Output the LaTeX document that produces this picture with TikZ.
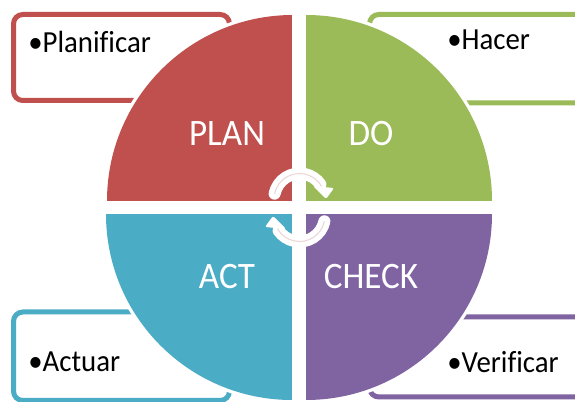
\documentclass[tikz,border=0pt]{standalone}
\usepackage{fontspec}
\setmainfont[Ligatures=NoCommon, FakeStretch=0.94]{Carlito}
\definecolor{colplan}{RGB}{192,80,77}
\definecolor{coldo}{RGB}{155,187,89}
\definecolor{colcheck}{RGB}{128,100,162}
\definecolor{colact}{RGB}{75,172,198}
\definecolor{colarrow}{RGB}{236,214,214}
\tikzset{
	notebox/.style={line width=3.75pt, rounded corners=7pt, fill=white},
	quadrant/.style={preaction={draw=white, line width=5pt}},
	phaselabel/.style={text=white, font=\fontsize{28}{28}\selectfont, inner sep=0pt},
	notelabel/.style={text=black, font=\fontsize{23}{23}\selectfont, anchor=base west, inner sep=0pt},
	cyclearc/.style={draw=white, line width=9pt, line cap=round},
	cycleline/.style={draw=colarrow, line width=0.8pt}
}

\begin{document}
\begin{tikzpicture}[x=0.75pt, y=-0.75pt]
	\clip (0,0) rectangle (575,402);

	\draw[notebox, draw=colplan] (13.5,14.5) rectangle (229.5,100.5);
	\draw[notebox, draw=coldo] (369.5,14.5) rectangle (600,103);
	\draw[notebox, draw=colact] (13.5,312) rectangle (229.5,400.5);
	\draw[notebox, draw=colcheck] (369.5,317) rectangle (600,397);

	\path[quadrant, fill=colplan] (292,201) -- (107,201) arc (180:270:186) -- (292,15) -- cycle;
	\path[quadrant, fill=coldo] (306,201) -- (306,15) arc (270:360:186) -- cycle;
	\path[quadrant, fill=colcheck] (306,214) -- (492,214) arc (0:90:186) -- cycle;
	\path[quadrant, fill=colact] (292,214) -- (292,400) arc (90:180:186) -- cycle;

	\fill[white] (292,0) rectangle (306,402);
	\fill[white] (100,201) rectangle (500,214);

	\node[phaselabel] (plan) at (227,134) {PLAN};
	\node[phaselabel] (do) at (371,134) {DO};
	\node[phaselabel] (act) at (227,277) {ACT};
	\node[phaselabel] (check) at (371,277) {CHECK};

	\node[notelabel] (planificar) at (28,52.5) {•Planificar};
	\node[notelabel] (hacer) at (447,50) {•Hacer};
	\node[notelabel] (actuar) at (28,372) {•Actuar};
	\node[notelabel] (verificar) at (447,373) {•Verificar};

	\draw[cyclearc] (274.6,193.7) arc (192:325:25.5);
	\fill[white, rounded corners=1.5pt] (334,188) -- (326,199) -- (313,186) -- cycle;
	\draw[cycleline] (274.6,193.7) arc (192:330:25.5);

	\draw[cyclearc] (324.4,221.3) arc (12:145:25.5);
	\fill[white, rounded corners=1.5pt] (265,227) -- (273,216) -- (286,229) -- cycle;
	\draw[cycleline] (324.4,221.3) arc (12:150:25.5);
\end{tikzpicture}
\end{document}
